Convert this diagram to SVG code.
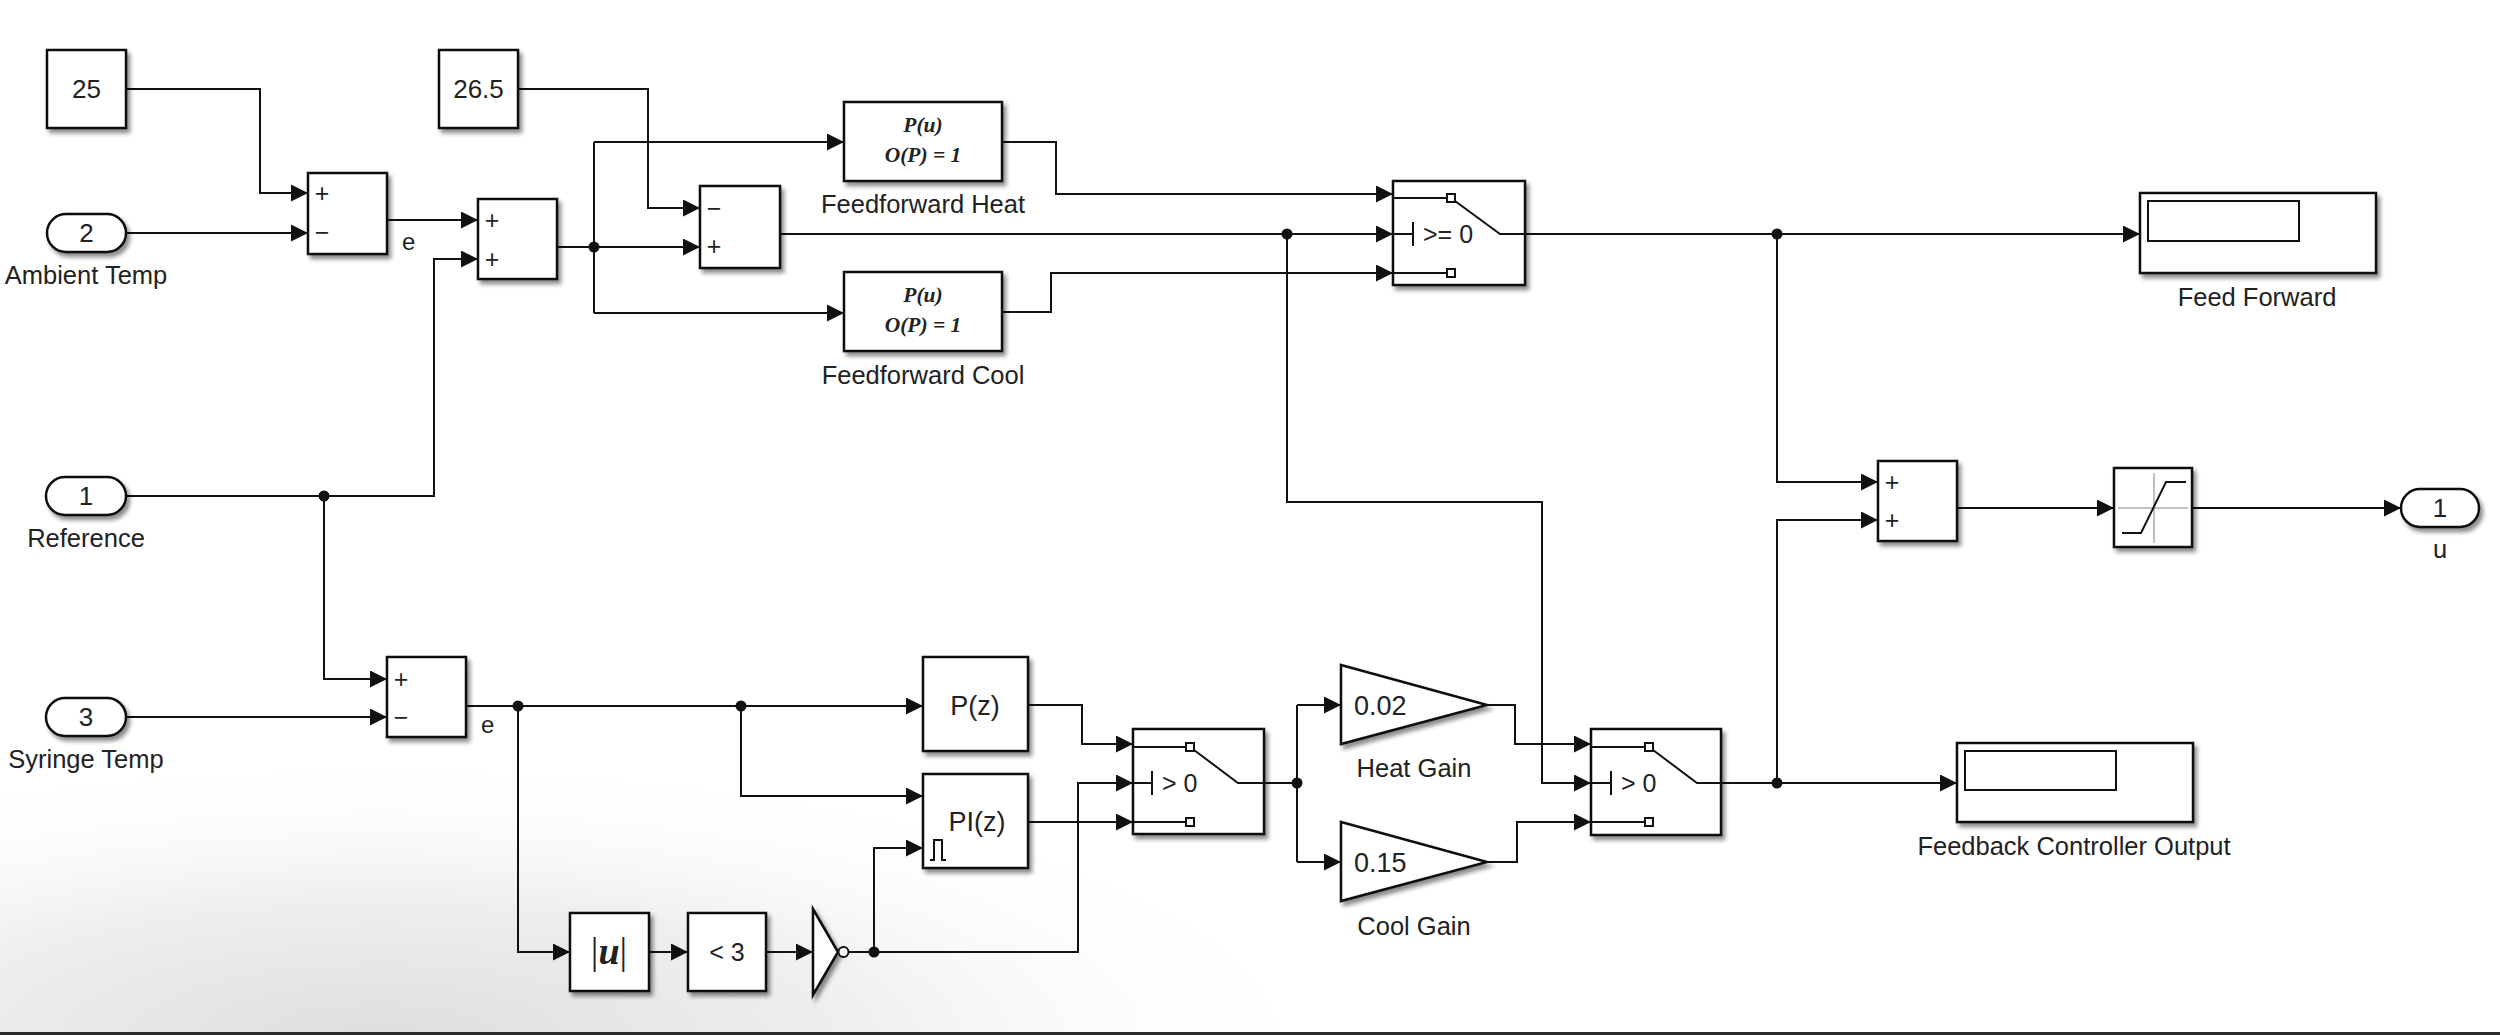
<svg xmlns="http://www.w3.org/2000/svg" width="2500" height="1035" viewBox="0 0 2500 1035">
<defs>
<style>
.blk{fill:#fff;stroke:#111;stroke-width:2.5;filter:url(#sh)}
.in{fill:#fff;stroke:#111;stroke-width:2}
.w{fill:none;stroke:#111;stroke-width:2}
.a{marker-end:url(#arr)}
.t{font-family:"Liberation Sans",Arial,sans-serif;fill:#222}
.lbl{font-size:25.5px;text-anchor:middle}
.num{font-size:26px;text-anchor:middle}
.sg{font-size:25px;text-anchor:middle;dominant-baseline:central}
.sw{font-size:25px}
.fx{font-family:"Liberation Serif","Times New Roman",serif;font-style:italic;font-weight:bold;font-size:21.5px;text-anchor:middle;fill:#222}
.dot{fill:#111}
.gray{fill:none;stroke:#aaa;stroke-width:1.5}
</style>
<filter id="sh" x="-20%" y="-20%" width="150%" height="150%">
<feDropShadow dx="3" dy="4" stdDeviation="2.2" flood-color="#000" flood-opacity="0.45"/>
</filter>
<marker id="arr" markerWidth="17" markerHeight="17" refX="17" refY="8.5" orient="auto" markerUnits="userSpaceOnUse">
<path d="M0,0 L17,8.5 L0,17 z" fill="#111"/>
</marker>
<radialGradient id="vig" gradientUnits="userSpaceOnUse" cx="380" cy="1040" r="950" gradientTransform="translate(380 1040) scale(1 0.3) translate(-380 -1040)">
<stop offset="0" stop-color="#dedede"/>
<stop offset="0.5" stop-color="#efefef"/>
<stop offset="1" stop-color="#ffffff" stop-opacity="0"/>
</radialGradient>
</defs>
<rect x="0" y="0" width="2500" height="1035" fill="#fff"/>
<rect x="0" y="0" width="2500" height="1035" fill="url(#vig)"/>
<rect x="0" y="1032" width="2500" height="3" fill="#2a2a2a"/>

<g id="connectors">
<path class="w a" d="M126,89 H260 V193 H308"/>
<path class="w a" d="M126,233 H308"/>
<path class="w a" d="M387,220 H478"/>
<path class="w a" d="M557,247 H700"/>
<path class="w a" d="M594,142 H844"/>
<path class="w" d="M594,142 V313"/>
<path class="w a" d="M594,313 H844"/>
<path class="w a" d="M518,89 H648 V208 H700"/>
<path class="w a" d="M1002,142 H1056 V194 H1393"/>
<path class="w a" d="M1002,312 H1051 V273 H1393"/>
<path class="w a" d="M780,234 H1393"/>
<path class="w a" d="M1287,234 V502 H1542 V783 H1591"/>
<path class="w a" d="M1525,234 H2140"/>
<path class="w a" d="M1777,234 V482 H1878"/>
<path class="w a" d="M1721,783 H1957"/>
<path class="w a" d="M1777,783 V520 H1878"/>
<path class="w a" d="M1957,508 H2114"/>
<path class="w a" d="M2192,508 H2401"/>
<path class="w a" d="M126,496 H434 V259 H478"/>
<path class="w a" d="M324,496 V679 H387"/>
<path class="w a" d="M126,717 H387"/>
<path class="w a" d="M466,706 H923"/>
<path class="w a" d="M741,706 V796 H923"/>
<path class="w a" d="M518,706 V952 H570"/>
<path class="w a" d="M649,952 H688"/>
<path class="w a" d="M766,952 H813"/>
<path class="w a" d="M849,952 H1078 V783 H1133"/>
<path class="w a" d="M874,952 V848 H923"/>
<path class="w a" d="M1028,705 H1082 V744 H1133"/>
<path class="w a" d="M1028,822 H1133"/>
<path class="w" d="M1264,783 H1297"/>
<path class="w" d="M1297,705 V862"/>
<path class="w a" d="M1297,705 H1341"/>
<path class="w a" d="M1297,862 H1341"/>
<path class="w a" d="M1487,705 H1515 V744 H1591"/>
<path class="w a" d="M1487,862 H1517 V822 H1591"/>
<circle class="dot" cx="594" cy="247" r="5.5"/>
<circle class="dot" cx="1287" cy="234" r="5.5"/>
<circle class="dot" cx="1777" cy="234" r="5.5"/>
<circle class="dot" cx="1777" cy="783" r="5.5"/>
<circle class="dot" cx="324" cy="496" r="5.5"/>
<circle class="dot" cx="518" cy="706" r="5.5"/>
<circle class="dot" cx="741" cy="706" r="5.5"/>
<circle class="dot" cx="874" cy="952" r="5.5"/>
<circle class="dot" cx="1297" cy="783" r="5.5"/>
</g>

<g id="const25">
<rect class="blk" x="47" y="50" width="79" height="78"/>
<text class="t num" x="86.5" y="98">25</text>
</g>
<g id="const26_5">
<rect class="blk" x="439" y="50" width="79" height="78"/>
<text class="t num" x="478.5" y="98">26.5</text>
</g>
<g id="in_ambient">
<rect class="blk" x="47" y="214" width="79" height="38" rx="19"/>
<text class="t num" x="86.5" y="242">2</text>
<text class="t lbl" x="86" y="284">Ambient Temp</text>
</g>
<g id="sum1">
<rect class="blk" x="308" y="173" width="79" height="81"/>
<text class="t sg" x="322" y="193">+</text>
<text class="t sg" x="322" y="232">−</text>
<text class="t" x="402" y="250" font-size="24">e</text>
</g>
<g id="sum2">
<rect class="blk" x="478" y="199" width="79" height="80"/>
<text class="t sg" x="492" y="220">+</text>
<text class="t sg" x="492" y="259">+</text>
</g>
<g id="sum3">
<rect class="blk" x="700" y="186" width="80" height="82"/>
<text class="t sg" x="714" y="208">−</text>
<text class="t sg" x="714" y="246">+</text>
</g>
<g id="ff_heat">
<rect class="blk" x="844" y="102" width="158" height="79"/>
<text class="fx" x="923" y="132">P(u)</text>
<text class="fx" x="923" y="162">O(P) = 1</text>
<text class="t lbl" x="923" y="213">Feedforward Heat</text>
</g>
<g id="ff_cool">
<rect class="blk" x="844" y="272" width="158" height="79"/>
<text class="fx" x="923" y="302">P(u)</text>
<text class="fx" x="923" y="332">O(P) = 1</text>
<text class="t lbl" x="923" y="384">Feedforward Cool</text>
</g>
<g id="switch1">
<rect class="blk" x="1393" y="181" width="132" height="104"/>
<path class="w" d="M1393,198 H1447 M1393,273 H1447 M1455,201 L1500,234 H1525 M1393,234 H1413 M1413,222 V246"/>
<rect class="in" x="1447" y="194" width="8" height="8" stroke-width="1.5"/>
<rect class="in" x="1447" y="269" width="8" height="8" stroke-width="1.5"/>
<text class="t sw" x="1423" y="243">&gt;= 0</text>
</g>
<g id="feed_forward_display">
<rect class="blk" x="2140" y="193" width="236" height="80"/>
<rect class="in" x="2148" y="201" width="151" height="40"/>
<text class="t lbl" x="2257" y="306">Feed Forward</text>
</g>
<g id="in_reference">
<rect class="blk" x="46" y="477" width="80" height="38" rx="19"/>
<text class="t num" x="86" y="505">1</text>
<text class="t lbl" x="86" y="547">Reference</text>
</g>
<g id="in_syringe">
<rect class="blk" x="46" y="698" width="80" height="38" rx="19"/>
<text class="t num" x="86" y="726">3</text>
<text class="t lbl" x="86" y="768">Syringe Temp</text>
</g>
<g id="sum5">
<rect class="blk" x="387" y="657" width="79" height="80"/>
<text class="t sg" x="401" y="679">+</text>
<text class="t sg" x="401" y="717">−</text>
<text class="t" x="481" y="733" font-size="24">e</text>
</g>
<g id="p_z">
<rect class="blk" x="923" y="657" width="105" height="94"/>
<text class="t" x="975" y="715" font-size="27" text-anchor="middle">P(z)</text>
</g>
<g id="pi_z">
<rect class="blk" x="923" y="774" width="105" height="94"/>
<text class="t" x="977" y="831" font-size="27" text-anchor="middle">PI(z)</text>
<path class="w" d="M930,860 H934 V840 H942 V860 H946"/>
</g>
<g id="switch2">
<rect class="blk" x="1133" y="729" width="131" height="105"/>
<path class="w" d="M1133,747 H1186 M1133,822 H1186 M1194,750 L1238,783 H1264 M1133,783 H1152 M1152,771 V795"/>
<rect class="in" x="1186" y="743" width="8" height="8" stroke-width="1.5"/>
<rect class="in" x="1186" y="818" width="8" height="8" stroke-width="1.5"/>
<text class="t sw" x="1162" y="792">&gt; 0</text>
</g>
<g id="heat_gain">
<polygon class="blk" points="1341,665 1487,705 1341,744"/>
<text class="t" x="1354" y="715" font-size="27">0.02</text>
<text class="t lbl" x="1414" y="777">Heat Gain</text>
</g>
<g id="cool_gain">
<polygon class="blk" points="1341,822 1487,862 1341,901"/>
<text class="t" x="1354" y="872" font-size="27">0.15</text>
<text class="t lbl" x="1414" y="935">Cool Gain</text>
</g>
<g id="switch3">
<rect class="blk" x="1591" y="729" width="130" height="106"/>
<path class="w" d="M1591,747 H1645 M1591,822 H1645 M1653,750 L1697,783 H1721 M1591,783 H1611 M1611,771 V795"/>
<rect class="in" x="1645" y="743" width="8" height="8" stroke-width="1.5"/>
<rect class="in" x="1645" y="818" width="8" height="8" stroke-width="1.5"/>
<text class="t sw" x="1621" y="792">&gt; 0</text>
</g>
<g id="sum4">
<rect class="blk" x="1878" y="461" width="79" height="80"/>
<text class="t sg" x="1892" y="482">+</text>
<text class="t sg" x="1892" y="520">+</text>
</g>
<g id="saturation">
<rect class="blk" x="2114" y="468" width="78" height="79"/>
<path class="gray" d="M2154,473 V543 M2118,508 H2188"/>
<path class="w" d="M2122,533 H2141 L2166,482 H2186"/>
</g>
<g id="out_u">
<rect class="blk" x="2401" y="489" width="78" height="38" rx="19"/>
<text class="t num" x="2440" y="517">1</text>
<text class="t lbl" x="2440" y="558">u</text>
</g>
<g id="feedback_display">
<rect class="blk" x="1957" y="743" width="236" height="79"/>
<rect class="in" x="1965" y="751" width="151" height="39"/>
<text class="t lbl" x="2074" y="855">Feedback Controller Output</text>
</g>
<g id="abs">
<rect class="blk" x="570" y="913" width="79" height="78"/>
<text x="609" y="964" font-size="38" text-anchor="middle" fill="#222" font-family="Liberation Serif,serif"><tspan>|</tspan><tspan font-style="italic" font-weight="bold">u</tspan><tspan>|</tspan></text>
</g>
<g id="lt3">
<rect class="blk" x="688" y="913" width="78" height="78"/>
<text class="t" x="727" y="961" font-size="25" text-anchor="middle">&lt; 3</text>
</g>
<g id="not">
<polygon class="blk" points="813,909 838,952 813,995"/>
<circle cx="843.5" cy="952" r="5" fill="#fff" stroke="#111" stroke-width="2"/>
</g>
</svg>
